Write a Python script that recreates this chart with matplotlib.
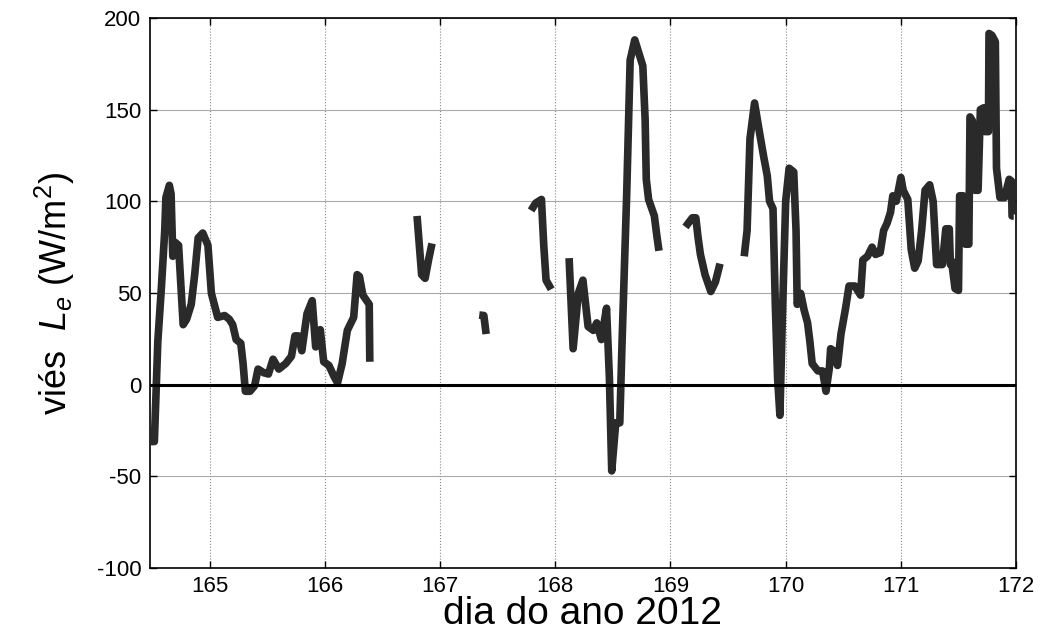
"""Bias of latent heat flux (L_e) versus day of year 2012."""
import numpy as np
import matplotlib.pyplot as plt

plt.rcParams["font.family"] = ["Liberation Sans", "DejaVu Sans"]
plt.rcParams["mathtext.fontset"] = "custom"
plt.rcParams["mathtext.rm"] = "Liberation Sans"
plt.rcParams["mathtext.it"] = "Liberation Sans:italic"
plt.rcParams["axes.unicode_minus"] = False

NAN = np.nan

# day of year (nan = gap in the record)
day = [
    164.49, 164.52, 164.55, 164.58, 164.61, 164.62, 164.65, 164.665, 164.68, 164.70,
    164.73, 164.77, 164.80, 164.84, 164.87, 164.90, 164.94, 164.985, 165.015, 165.04,
    165.07, 165.13, 165.17, 165.20, 165.23, 165.27, 165.29, 165.31, 165.35, 165.39,
    165.42, 165.47, 165.51, 165.55, 165.60, 165.66, 165.71, 165.74, 165.77, 165.80,
    165.845, 165.89, 165.92, 165.96, 165.99, 166.035, 166.08, 166.11, 166.15, 166.195,
    166.25, 166.28, 166.30, 166.33, 166.385, 166.39, NAN,
    166.80, 166.82, 166.84, 166.87, 166.90, 166.93, NAN,
    167.34, 167.38, 167.40, NAN,
    167.79, 167.83, 167.88, 167.90, 167.92, 167.965, NAN,
    168.12, 168.155, 168.20, 168.24, 168.285, 168.33, 168.36, 168.40, 168.445, 168.47,
    168.49, 168.525, 168.56, 168.58, 168.62, 168.65, 168.69, 168.76, 168.78, 168.79,
    168.81, 168.86, 168.88, 168.90, NAN,
    169.13, 169.19, 169.22, 169.24, 169.26, 169.30, 169.35, 169.39, 169.43, NAN,
    169.64, 169.665, 169.69, 169.73, 169.77, 169.81, 169.84, 169.86, 169.89, 169.91,
    169.93, 169.95, 169.97, 170.00, 170.03, 170.07, 170.09, 170.10, 170.13, 170.16,
    170.19, 170.21, 170.23, 170.28, 170.32, 170.35, 170.38, 170.39, 170.415, 170.45,
    170.48, 170.52, 170.55, 170.60, 170.65, 170.67, 170.71, 170.75, 170.78, 170.82,
    170.85, 170.88, 170.91, 170.93, 170.96, 171.00, 171.02, 171.06, 171.09, 171.12,
    171.15, 171.18, 171.21, 171.25, 171.28, 171.31, 171.36, 171.39, 171.42, 171.43,
    171.44, 171.47, 171.50, 171.51, 171.54, 171.56, 171.59, 171.60, 171.62, 171.645,
    171.67, 171.69, 171.72, 171.73, 171.76, 171.765, 171.79, 171.82, 171.83, 171.86,
    171.90, 171.94, 171.96, 171.965, 171.98,
]

# bias of L_e (W/m^2)
bias = [
    -31, -31, 23.6, 52, 84, 102, 108.7, 104, 70, 77.6,
    76, 32.7, 35.7, 43.8, 60, 80, 82.7, 76, 49.8, 43.8,
    36.7, 37.7, 35.7, 32.7, 24.6, 22.6, 11.5, -3.6, -3.6, -0.6,
    8.5, 6.5, 5.8, 13.9, 8.5, 11.5, 15.5, 26.6, 26.6, 18.5,
    38.7, 45.8, 20.6, 30, 12.5, 10.5, 4.4, 1, 11.5, 29.6,
    36.7, 60, 59, 48.8, 43.8, 12.5, NAN,
    92, 76, 60, 58, 68, 77, NAN,
    38, 37.7, 27.6, NAN,
    95, 99, 101, 76, 57, 52, NAN,
    69, 19.6, 49.8, 57, 31.7, 29.6, 33.7, 24.6, 41.7, 3.4,
    -47, -20.8, -20.8, 23.6, 104, 177, 188, 173.8, 144.6, 112,
    101, 92, 82, 73, NAN,
    86, 91, 91, 80, 71, 60, 50.8, 56, 66, NAN,
    70, 84, 134, 153.6, 138.5, 124, 114, 100, 96, 43.8,
    3.4, -16.7, 33.7, 100, 118, 116, 84, 43.8, 49.8, 40.7,
    33.7, 23.6, 11.5, 7.5, 7.5, -3.6, 9.5, 19.6, 18.5, 10.5,
    27.6, 41.7, 53.8, 53.8, 48.8, 68, 70, 75, 71, 72,
    84, 88, 94, 103, 100, 113, 106, 101, 73.6, 63.5,
    67.5, 84, 106, 109, 100, 65.5, 65.5, 85, 85, 65.5,
    67.5, 52.4, 51.4, 103, 103, 76.6, 76.6, 146, 144, 106,
    106, 150, 151, 138, 138, 191.5, 190.5, 187, 118, 102,
    102, 112, 111, 92, 92,
]

x_ticks = [165, 166, 167, 168, 169, 170, 171, 172]
y_ticks = [-100, -50, 0, 50, 100, 150, 200]

fig = plt.figure(figsize=(10.4, 6.39), dpi=100)
ax = fig.add_axes([0.144, 0.111, 0.833, 0.861])

ax.plot(day, bias, color="#2a2a2a", linewidth=5.5, solid_joinstyle="round",
        solid_capstyle="butt", zorder=3)
ax.axhline(0, color="black", linewidth=2.2, zorder=4)

ax.set_xlim(164.48, 172)
ax.set_ylim(-100, 200)
ax.set_xticks(x_ticks)
ax.set_yticks(y_ticks)
ax.tick_params(direction="in", length=5, width=1, labelsize=16, top=True, right=True)
ax.tick_params(axis="x", pad=6)
ax.tick_params(axis="y", pad=6)
ax.grid(True, axis="x", color="#888888", linestyle=":", linewidth=0.8)
ax.grid(True, axis="y", color="#aaaaaa", linestyle="-", linewidth=0.8)
ax.set_axisbelow(True)
for s in ax.spines.values():
    s.set_linewidth(1.2)

ax.set_xlabel("dia do ano 2012", fontsize=28, labelpad=-1)
ax.set_ylabel(r"viés  $L_e$ (W/m$^2$)", fontsize=26, labelpad=14)

fig.savefig("out.png", dpi=100)
